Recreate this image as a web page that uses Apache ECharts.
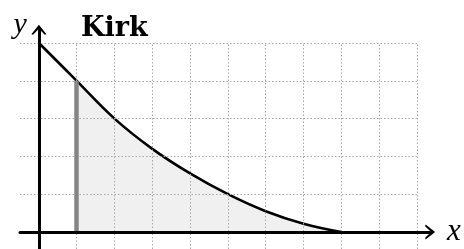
<!DOCTYPE html>
<html>
<head>
<meta charset="utf-8">
<script src="https://cdn.jsdelivr.net/npm/echarts@6/dist/echarts.min.js"></script>
<style>html,body{margin:0;padding:0;background:#fff}#c{width:464px;height:249px}</style>
</head>
<body>
<div id="c"></div>
<script>
// Data
var titleText = 'Kirk';
var xName = 'x';
var yName = 'y';
var curveX = [0, 1, 2, 3, 4, 5, 6, 7, 8];
var curveY = [5, 4, 3.0, 2.2, 1.55, 1.0, 0.55, 0.22, 0];
var shadeStart = 1;
var gridXs = [1, 2, 3, 4, 5, 6, 7, 8, 9, 10];
var gridYs = [1, 2, 3, 4, 5];
var xMin = -0.5, xGridMax = 10, xMax = 10.35;
var yMin = -0.45, yGridMax = 5, yMax = 5.35;

var curve = curveX.map(function (x, i) { return [x, curveY[i]]; });
var shade = curve.filter(function (p) { return p[0] >= shadeStart; });
var shadeTop = curveY[curveX.indexOf(shadeStart)];

var gridLines = [];
gridXs.forEach(function (x) { gridLines.push([{ coord: [x, yMin] }, { coord: [x, yGridMax] }]); });
gridYs.forEach(function (y) { gridLines.push([{ coord: [xMin, y] }, { coord: [xGridMax, y] }]); });

var arrow = 'path://M0,10 L8,0 L16,10 L14.2,10.6 L8,4.2 L1.8,10.6 Z';

var chart = echarts.init(document.getElementById('c'), null, { renderer: 'canvas' });
chart.setOption({
  animation: false,
  backgroundColor: '#fff',
  title: {
    text: titleText, left: 76, top: 10,
    textStyle: { fontFamily: 'DejaVu Serif', fontWeight: 'bold', fontSize: 27, color: '#000' }
  },
  grid: { left: 20, right: 33.9, top: 29.8, bottom: 0, containLabel: false },
  xAxis: {
    type: 'value', min: xMin, max: xMax, z: 10,
    name: xName, nameLocation: 'end', nameGap: 17,
    nameTextStyle: { fontFamily: 'Liberation Serif', fontStyle: 'italic', fontSize: 31, color: '#000', verticalAlign: 'middle', padding: [0, 0, 6, 0] },
    axisLine: { onZero: true, lineStyle: { color: '#000', width: 3 }, symbol: ['none', arrow], symbolSize: [16, 10] },
    axisTick: { show: false }, axisLabel: { show: false }, splitLine: { show: false }
  },
  yAxis: {
    type: 'value', min: yMin, max: yMax, z: 10,
    name: yName, nameLocation: 'end', nameGap: -10,
    nameTextStyle: { fontFamily: 'Liberation Serif', fontStyle: 'italic', fontSize: 30, color: '#000', align: 'right', padding: [0, 12, 0, 0] },
    axisLine: { onZero: true, lineStyle: { color: '#000', width: 3 }, symbol: ['none', arrow], symbolSize: [16, 10] },
    axisTick: { show: false }, axisLabel: { show: false }, splitLine: { show: false }
  },
  series: [
    {
      type: 'line', data: shade, smooth: 0.4, symbol: 'none', z: 1,
      lineStyle: { width: 0 }, areaStyle: { color: '#f0f0f0', opacity: 1 },
      silent: true
    },
    {
      type: 'line', data: [], z: 2, silent: true,
      markLine: {
        silent: true, symbol: ['none', 'none'], label: { show: false },
        lineStyle: { color: '#a8a8a8', width: 1, type: [1.5, 2] },
        data: gridLines
      }
    },
    {
      type: 'line', data: [], z: 3, silent: true,
      markLine: {
        silent: true, symbol: ['none', 'none'], label: { show: false },
        lineStyle: { color: '#858585', width: 4.5, type: 'solid' },
        data: [[{ coord: [shadeStart, 0] }, { coord: [shadeStart, shadeTop] }]]
      }
    },
    {
      type: 'line', data: curve, smooth: 0.4, symbol: 'none', z: 4,
      lineStyle: { color: '#000', width: 2.6 }, silent: true
    }
  ]
});
</script>
</body>
</html>
